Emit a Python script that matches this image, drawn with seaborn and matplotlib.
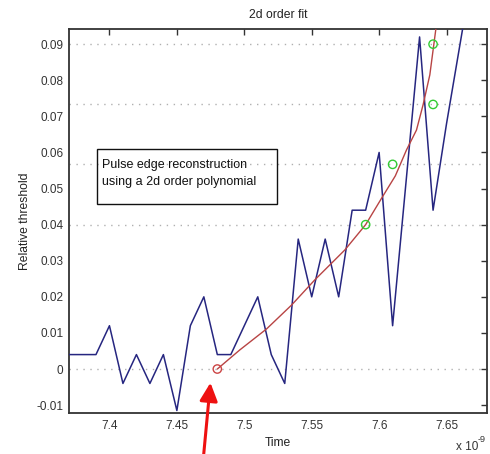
import matplotlib
matplotlib.use("Agg")
import matplotlib.pyplot as plt
import seaborn as sns
import numpy as np
from matplotlib.patches import Rectangle

# ---- data (time in units of 1e-9 s) ----
blue_t = [7.36, 7.37, 7.38, 7.39, 7.40, 7.41, 7.42, 7.43, 7.44, 7.45, 7.46, 7.47,
          7.48, 7.49, 7.50, 7.51, 7.52, 7.53, 7.54, 7.55, 7.56, 7.57, 7.58, 7.59,
          7.60, 7.61, 7.62, 7.63, 7.64, 7.65, 7.66, 7.67]
blue_v = [0.004, 0.004, 0.004, 0.004, 0.012, -0.004, 0.004, -0.004, 0.004, -0.0115, 0.012, 0.020,
          0.004, 0.004, 0.012, 0.020, 0.004, -0.004, 0.036, 0.020, 0.036, 0.020, 0.044, 0.044,
          0.060, 0.012, 0.052, 0.092, 0.044, 0.068, 0.090, 0.112]

fit_t = [7.480, 7.4967, 7.5165, 7.535, 7.5523, 7.5746, 7.590, 7.6018, 7.6120, 7.6203,
         7.6277, 7.6326, 7.6376, 7.642, 7.6455]
fit_v = [0.0, 0.0053, 0.0111, 0.0177, 0.0247, 0.0330, 0.0400, 0.0473, 0.0535, 0.0607,
         0.0662, 0.0732, 0.0815, 0.0940, 0.1020]

green_t = [7.59, 7.61, 7.64, 7.64]
green_v = [0.04, 0.0567, 0.0733, 0.09]

start_t = [7.48]
start_v = [0.0]

levels = [0.0, 0.04, 0.0567, 0.0733, 0.09]

xticks = [7.4, 7.45, 7.5, 7.55, 7.6, 7.65]
xticklabels = ["7.4", "7.45", "7.5", "7.55", "7.6", "7.65"]
yticks = [-0.01, 0.0, 0.01, 0.02, 0.03, 0.04, 0.05, 0.06, 0.07, 0.08, 0.09]
yticklabels = ["-0.01", "0", "0.01", "0.02", "0.03", "0.04", "0.05", "0.06", "0.07", "0.08", "0.09"]

sns.set_style("white")
plt.rcParams['font.family'] = ['Liberation Sans', 'DejaVu Sans']

W, H = 490, 454
fig = plt.figure(figsize=(W / 100, H / 100), dpi=100)
L, R, T, B = 69, 487, 29, 412.7
ax = fig.add_axes([L / W, 1 - B / H, (R - L) / W, (B - T) / H])

for lv in levels:
    ax.axhline(lv, color="#b0b0b0", lw=1.0, ls=(0, (1, 4)), zorder=1)

sns.lineplot(x=blue_t, y=blue_v, ax=ax, color="#262680", lw=1.1, sort=False, zorder=3)
sns.lineplot(x=fit_t, y=fit_v, ax=ax, color="#b84444", lw=1.0, sort=False, zorder=4)
sns.scatterplot(x=green_t, y=green_v, ax=ax, s=36, facecolor="none",
                edgecolor="#33cc33", linewidth=1.0, zorder=5)
sns.scatterplot(x=start_t, y=start_v, ax=ax, s=36, facecolor="none",
                edgecolor="#cc4444", linewidth=1.0, zorder=5)

ax.set_xlim(7.37, 7.68)
ax.set_ylim(-0.0121, 0.0942)
ax.set_xticks(xticks)
ax.set_xticklabels(xticklabels)
ax.set_yticks(yticks)
ax.set_yticklabels(yticklabels)

ax.tick_params(direction="in", length=4, width=1, color="#333333",
               labelcolor="#333333", labelsize=8.5, top=True, right=True)
ax.tick_params(axis="y", pad=4)
ax.tick_params(axis="x", pad=5)
for sp in ax.spines.values():
    sp.set_color("#333333")
    sp.set_linewidth(1.3)
    sp.set_visible(True)

ax.set_title("2d order fit", fontsize=8.7, color="#222222", pad=8)
ax.set_xlabel("Time", fontsize=8.7, color="#222222", labelpad=4)
ax.set_ylabel("Relative threshold", fontsize=8.7, color="#222222", labelpad=4)

# exponent label
fig.text(456 / W, 1 - 453 / H, "x 10", fontsize=8.5, color="#333333", ha="left", va="bottom")
fig.text(478 / W, 1 - 435 / H, "-9", fontsize=6.5, color="#333333", ha="left", va="top")

# text box
fig.patches.append(Rectangle((97 / W, 1 - 204 / H), (277 - 97) / W, (204 - 149) / H,
                             transform=fig.transFigure, facecolor="none",
                             edgecolor="#111111", lw=1.0, zorder=6))
fig.text(102 / W, 1 - 165 / H, "Pulse edge reconstruction", fontsize=9,
         color="#111111", ha="left", va="center")
fig.text(102 / W, 1 - 182 / H, "using a 2d order polynomial", fontsize=9,
         color="#111111", ha="left", va="center")

# red arrow
ax.annotate("", xy=(7.4749, -0.0038), xytext=(7.4695, -0.0252),
            arrowprops=dict(arrowstyle="-|>,head_length=0.55,head_width=0.27",
                            color="#ee1111", lw=2.2, mutation_scale=20,
                            shrinkA=0, shrinkB=0),
            annotation_clip=False, zorder=7)

fig.savefig("out.png", dpi=100)
